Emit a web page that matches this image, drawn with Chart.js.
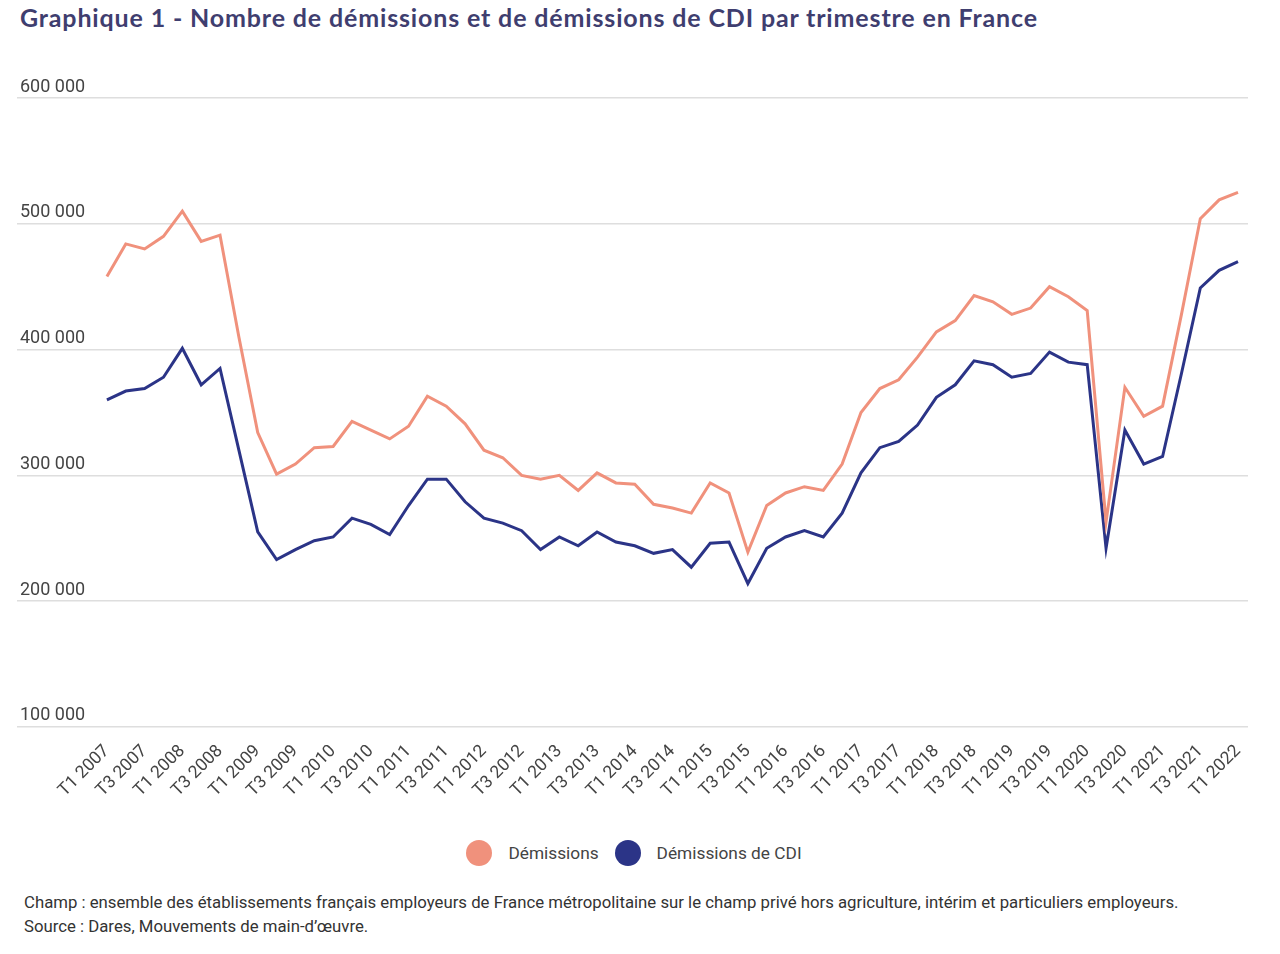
<!DOCTYPE html>
<html lang="fr">
<head>
<meta charset="utf-8">
<title>Démissions par trimestre</title>
<script src="https://cdn.jsdelivr.net/npm/chart.js@4.4.1/dist/chart.umd.min.js"></script>
<style>
    html, body { margin: 0; padding: 0; background: #fff; }
    body { width: 1280px; height: 954px; position: relative; overflow: hidden; font-family: Roboto, sans-serif; }
    #title {
        position: absolute; left: 20px; top: 2px;
        font: 700 25px Lato, sans-serif; letter-spacing: 0.85px; color: #3f3e6f; white-space: nowrap;
    }
    #chart-box { position: absolute; left: 0; top: 0; width: 1280px; height: 807px; }
    #legend {
        position: absolute; left: -6px; top: 840px; width: 1280px;
        display: flex; justify-content: center; gap: 16px;
        font-size: 17.3px; color: #444;
    }
    .legend-item { display: flex; align-items: center; }
    .legend-dot { width: 26px; height: 26px; border-radius: 50%; margin-right: 16px; }
    #footer {
        position: absolute; left: 24px; top: 890px;
        font-size: 16.75px; line-height: 24px; color: #333;
    }
</style>
</head>
<body>
<div id="title">Graphique 1 - Nombre de démissions et de démissions de CDI par trimestre en France</div>
<div id="chart-box"><canvas id="chart-demissions"></canvas></div>
<div id="legend"></div>
<div id="footer">
    Champ : ensemble des établissements français employeurs de France métropolitaine sur le champ privé hors agriculture, intérim et particuliers employeurs.<br>
    Source : Dares, Mouvements de main-d’œuvre.
</div>
<script>
// Trimestres T1 2007 -> T1 2022
const quarters = [
    'T1 2007', 'T2 2007', 'T3 2007', 'T4 2007',
    'T1 2008', 'T2 2008', 'T3 2008', 'T4 2008',
    'T1 2009', 'T2 2009', 'T3 2009', 'T4 2009',
    'T1 2010', 'T2 2010', 'T3 2010', 'T4 2010',
    'T1 2011', 'T2 2011', 'T3 2011', 'T4 2011',
    'T1 2012', 'T2 2012', 'T3 2012', 'T4 2012',
    'T1 2013', 'T2 2013', 'T3 2013', 'T4 2013',
    'T1 2014', 'T2 2014', 'T3 2014', 'T4 2014',
    'T1 2015', 'T2 2015', 'T3 2015', 'T4 2015',
    'T1 2016', 'T2 2016', 'T3 2016', 'T4 2016',
    'T1 2017', 'T2 2017', 'T3 2017', 'T4 2017',
    'T1 2018', 'T2 2018', 'T3 2018', 'T4 2018',
    'T1 2019', 'T2 2019', 'T3 2019', 'T4 2019',
    'T1 2020', 'T2 2020', 'T3 2020', 'T4 2020',
    'T1 2021', 'T2 2021', 'T3 2021', 'T4 2021',
    'T1 2022'
];

const demissions = [
    458000, 484000, 480000, 490000, 510000, 486000, 491000, 410000,
    334000, 301000, 309000, 322000, 323000, 343000, 336000, 329000,
    339000, 363000, 355000, 341000, 320000, 314000, 300000, 297000,
    300000, 288000, 302000, 294000, 293000, 277000, 274000, 270000,
    294000, 286000, 239000, 276000, 286000, 291000, 288000, 309000,
    350000, 369000, 376000, 394000, 414000, 423000, 443000, 438000,
    428000, 433000, 450000, 442000, 431000, 263000, 370000, 347000,
    355000, 428000, 504000, 519000, 525000
];

const demissionsCdi = [
    360000, 367000, 369000, 378000, 401000, 372000, 385000, 320000,
    255000, 233000, 241000, 248000, 251000, 266000, 261000, 253000,
    276000, 297000, 297000, 279000, 266000, 262000, 256000, 241000,
    251000, 244000, 255000, 247000, 244000, 238000, 241000, 227000,
    246000, 247000, 214000, 242000, 251000, 256000, 251000, 270000,
    302000, 322000, 327000, 340000, 362000, 372000, 391000, 388000,
    378000, 381000, 398000, 390000, 388000, 242000, 336000, 309000,
    315000, 381000, 449000, 463000, 470000
];

const yTicks = [100000, 200000, 300000, 400000, 500000, 600000];

const COLORS = {
    demissions: '#f0917c',
    cdi: '#2b3487',
    grid: '#dedede',
    text: '#444'
};

// thousands separated by a plain space: 600 000
const formatNumber = (v) => String(v).replace(/\B(?=(\d{3})+(?!\d))/g, ' ');

const toPoints = (values) => values.map((v, i) => ({ x: i, y: v }));

const ctx = document.getElementById('chart-demissions').getContext('2d');

const chart = new Chart(ctx, {
    type: 'line',
    data: {
        datasets: [
            {
                label: 'Démissions',
                data: toPoints(demissions),
                borderColor: COLORS.demissions,
                backgroundColor: COLORS.demissions,
                borderWidth: 3,
                pointRadius: 0,
                tension: 0
            },
            {
                label: 'Démissions de CDI',
                data: toPoints(demissionsCdi),
                borderColor: COLORS.cdi,
                backgroundColor: COLORS.cdi,
                borderWidth: 3,
                pointRadius: 0,
                tension: 0
            }
        ]
    },
    options: {
        responsive: true,
        maintainAspectRatio: false,
        animation: false,
        layout: {
            padding: { left: 11, right: 32, top: 98, bottom: 0 }
        },
        scales: {
            x: {
                type: 'linear',
                min: -4.77,
                max: 60.53,
                grid: { display: false },
                border: { display: false },
                afterBuildTicks: (scale) => {
                    scale.ticks = quarters
                        .map((q, i) => ({ value: i }))
                        .filter(t => t.value % 2 === 0);
                },
                ticks: {
                    autoSkip: false,
                    maxRotation: 45,
                    minRotation: 45,
                    padding: 6,
                    color: COLORS.text,
                    font: { family: 'Roboto', size: 17.5 },
                    callback: (v) => quarters[v]
                }
            },
            y: {
                min: 100000,
                max: 600000,
                afterBuildTicks: (scale) => {
                    scale.ticks = yTicks.map(v => ({ value: v }));
                },
                grid: { color: COLORS.grid, lineWidth: 1.5, drawTicks: false },
                border: { display: false },
                ticks: {
                    mirror: true,
                    padding: 3,
                    labelOffset: -11,
                    color: COLORS.text,
                    font: { family: 'Roboto', size: 18 },
                    callback: (v) => formatNumber(v)
                }
            }
        },
        plugins: {
            legend: { display: false },
            tooltip: { enabled: false }
        }
    }
});

// Legend built from the chart datasets
const legendEl = document.getElementById('legend');
chart.data.datasets.forEach(ds => {
    const item = document.createElement('div');
    item.className = 'legend-item';
    item.innerHTML = `<span class="legend-dot" style="background:${ds.backgroundColor}"></span><span>${ds.label}</span>`;
    legendEl.appendChild(item);
});
</script>
</body>
</html>
